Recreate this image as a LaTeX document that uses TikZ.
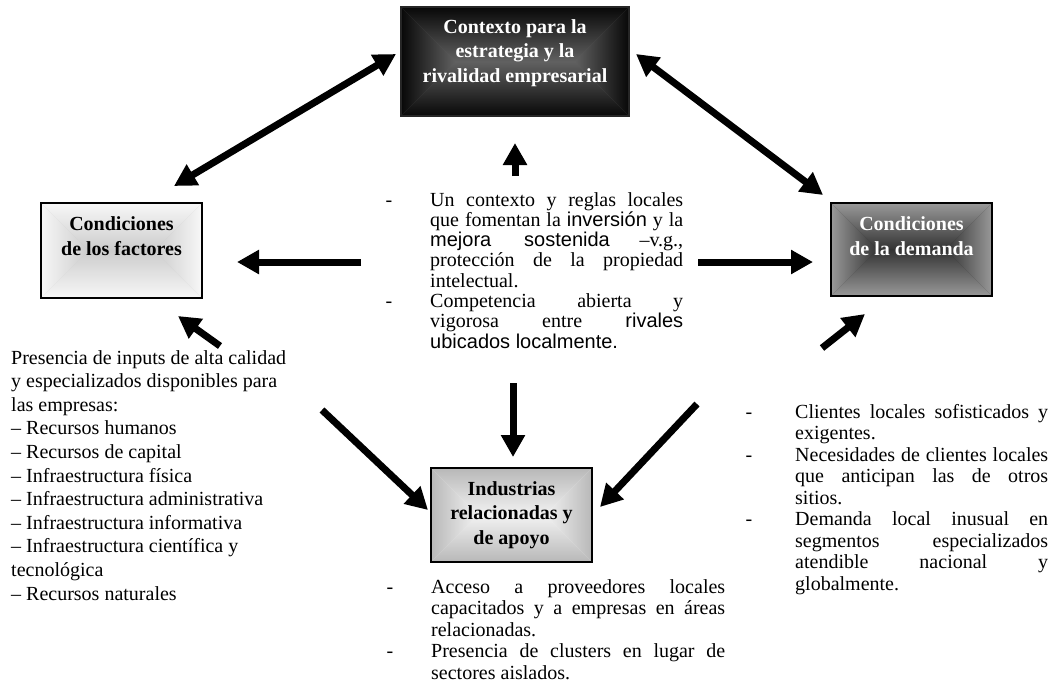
\documentclass[tikz,border=0pt]{standalone}
\usepackage{fontspec}
\setmainfont{Liberation Serif}
\newfontfamily\arialf{Liberation Sans}
\usetikzlibrary{arrows.meta}
\tolerance=10000
\hbadness=10000
\hyphenpenalty=10000
\exhyphenpenalty=10000
\definecolor{ctxout}{gray}{0.03}
\definecolor{ctxin}{gray}{0.38}
\definecolor{facout}{gray}{0.97}
\definecolor{facin}{gray}{0.80}
\definecolor{demout}{gray}{0.60}
\definecolor{demin}{gray}{0.20}
\definecolor{indout}{gray}{0.72}
\definecolor{indin}{gray}{0.95}
\newcommand\dashitem[1]{\leavevmode\llap{-\hspace{#1}}}
\tikzset{
  fat/.style={line width=7pt,-{Triangle[length=22pt,width=23pt]}},
  fatboth/.style={line width=7pt,{Triangle[length=22pt,width=23pt]}-{Triangle[length=22pt,width=23pt]}},
  frame/.style={draw=black,line width=1.4pt,inner sep=0,fill=none},
  head/.style={font=\bfseries\fontsize{20}{24.5}\selectfont,align=center,inner sep=0},
  body/.style={inner sep=0,anchor=north west,font=\fontsize{20}{21.5}\selectfont},
}
\newcommand\gradfill[6]{%
  \pgfmathsetmacro\bxcx{(#1+#3)/2}%
  \pgfmathsetmacro\bxcy{(#2+#4)/2}%
  \pgfmathsetmacro\bxd{max(0,((#3-#1)-(#4-#2))/2)}%
  \pgfmathsetmacro\bxl{\bxcx-\bxd}%
  \pgfmathsetmacro\bxr{\bxcx+\bxd}%
  \fill[#6] (#1,#2) rectangle (#3,#4);
  \shade[top color=#5,bottom color=#6] (#1,#2) -- (#3,#2) -- (\bxr,\bxcy) -- (\bxl,\bxcy) -- cycle;
  \shade[top color=#6,bottom color=#5] (#1,#4) -- (#3,#4) -- (\bxr,\bxcy) -- (\bxl,\bxcy) -- cycle;
  \shade[left color=#5,right color=#6] (#1,#2) -- (#1,#4) -- (\bxl,\bxcy) -- cycle;
  \shade[left color=#6,right color=#5] (#3,#2) -- (#3,#4) -- (\bxr,\bxcy) -- cycle;
}
\begin{document}
\begin{tikzpicture}[x=1pt,y=-1pt]
\useasboundingbox (0,0) rectangle (1054,691);
\fill[white] (0,0) rectangle (1054,691);

% shaded boxes
\gradfill{401}{7}{629}{116}{ctxout}{ctxin}
\gradfill{41}{203}{202}{298}{facout}{facin}
\gradfill{831}{203}{992}{296}{demout}{demin}
\gradfill{431}{468}{592}{562}{indout}{indin}

\node[frame,draw=black!85,minimum width=228pt,minimum height=109pt] (ctx) at (515,61.5) {};
\node[frame,minimum width=161pt,minimum height=95pt] (fac) at (121.5,250.5) {};
\node[frame,minimum width=161pt,minimum height=93pt] (dem) at (911.5,249.5) {};
\node[frame,minimum width=161pt,minimum height=94pt] (ind) at (511.5,515) {};

\node[head,text=white] (ctxt) at (515,53) {Contexto para la\\estrategia y la\\rivalidad empresarial};
\node[head] (fact) at (121.5,236) {Condiciones\\de los factores};
\node[head,text=white] (demt) at (911.5,236) {Condiciones\\de la demanda};
\node[head] (indt) at (511.5,515) {Industrias\\relacionadas y\\de apoyo};

% body texts
\node[body,text width=253pt,align=justify,font=\fontsize{20}{20.3}\selectfont] (ctext) at (430,192) {%
\dashitem{38pt}Un contexto y reglas locales\linebreak
que fomentan la {\arialf inversión} y la\linebreak
{\arialf mejora sostenida} –v.g.,\linebreak
protección de la propiedad\linebreak
intelectual.\par
\dashitem{38pt}Competencia abierta y\linebreak
vigorosa entre {\arialf rivales}\linebreak
{\arialf ubicados localmente.}};

\node[body,align=left,font=\fontsize{20}{23.6}\selectfont] (ltext) at (11,350) {%
Presencia de inputs de alta calidad\\
y especializados disponibles para\\
las empresas:\\
– Recursos humanos\\
– Recursos de capital\\
– Infraestructura física\\
– Infraestructura administrativa\\
– Infraestructura informativa\\
– Infraestructura científica y\\
tecnológica\\
– Recursos naturales};

\node[body,text width=253pt,align=justify] (rtext) at (795,404) {%
\dashitem{43pt}Clientes locales sofisticados y\linebreak
exigentes.\par
\dashitem{43pt}Necesidades de clientes locales\linebreak
que anticipan las de otros\linebreak
sitios.\par
\dashitem{43pt}Demanda local inusual en\linebreak
segmentos especializados\linebreak
atendible nacional y\linebreak
globalmente.};

\node[body,text width=294pt,align=justify] (btext) at (431,579) {%
\dashitem{38pt}Acceso a proveedores locales\linebreak
capacitados y a empresas en áreas\linebreak
relacionadas.\par
\dashitem{38pt}Presencia de clusters en lugar de\linebreak
sectores aislados.};

% arrow end points
\coordinate (a1s) at (174,186); \coordinate (a1e) at (396,54);
\coordinate (a2s) at (636,54);  \coordinate (a2e) at (823,195);
\coordinate (upS) at (515,176); \coordinate (upE) at (515,143);
\coordinate (lfS) at (361,262); \coordinate (lfE) at (237,262);
\coordinate (rtS) at (698,262); \coordinate (rtE) at (813,262);
\coordinate (dnS) at (513,383); \coordinate (dnE) at (513,457);
\coordinate (ulS) at (220,346); \coordinate (ulE) at (178,316);
\coordinate (urS) at (822,348); \coordinate (urE) at (865,314);
\coordinate (drS) at (322,410); \coordinate (drE) at (428,510);
\coordinate (dlS) at (697,404); \coordinate (dlE) at (600,507);

\draw[fatboth] (a1s) -- (a1e);
\draw[fatboth] (a2s) -- (a2e);
\draw[fat] (upS) -- (upE);
\draw[fat] (lfS) -- (lfE);
\draw[fat] (rtS) -- (rtE);
\draw[fat] (dnS) -- (dnE);
\draw[fat] (ulS) -- (ulE);
\draw[fat] (urS) -- (urE);
\draw[fat] (drS) -- (drE);
\draw[fat] (dlS) -- (dlE);
\end{tikzpicture}
\end{document}
